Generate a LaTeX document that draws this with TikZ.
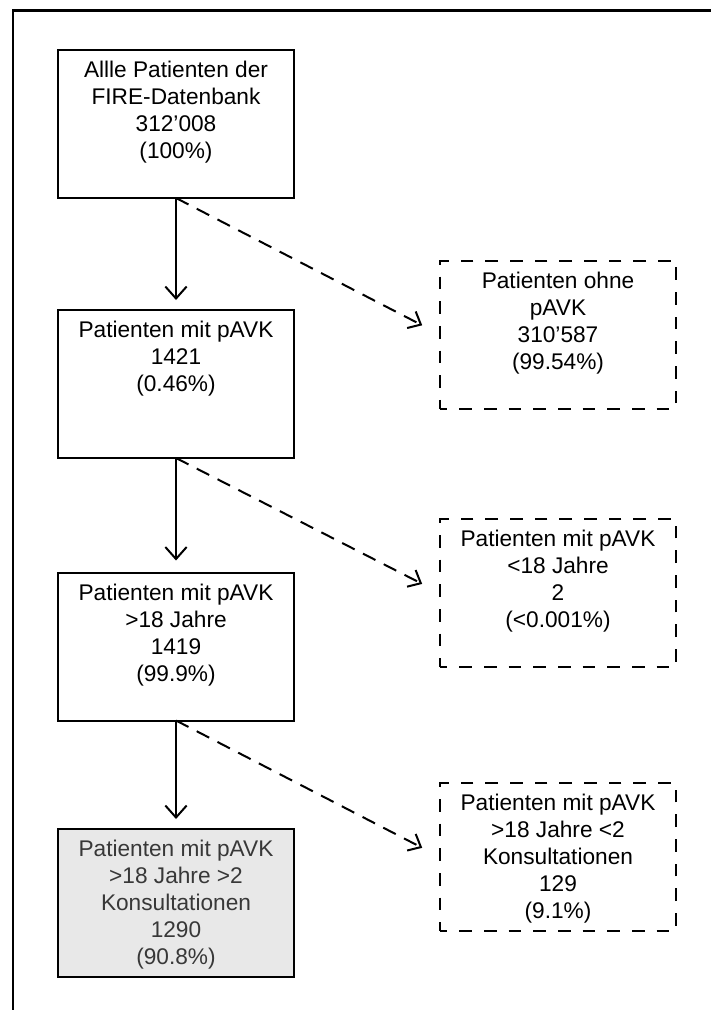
\documentclass[tikz,border=0pt]{standalone}
\usepackage{fontspec}
\setmainfont{Liberation Sans}
\usetikzlibrary{arrows.meta}
\newcommand\boxlines[1]{\parbox[c][111pt][t]{177pt}{\centering\rule{0pt}{20.8pt}#1}}
\tikzset{
  flowbox/.style={draw=black, line width=1.5pt, inner sep=0pt, outer sep=0pt,
    font=\fontsize{17}{20.25}\selectfont},
  solidbox/.style={flowbox},
  greybox/.style={flowbox, fill=black!9, text=black!78},
  dashbox/.style={flowbox, dash pattern=on 9.5pt off 9pt, dash phase=4pt},
  mainarrow/.style={draw=black, line width=1.5pt, -{Straight Barb[length=9pt,width=16pt,line width=1.5pt]}},
  sidearrow/.style={draw=black, line width=1.5pt, dash pattern=on 10.5pt off 7pt,
    -{Straight Barb[length=8pt,width=14pt,line width=1.5pt]}},
  frameline/.style={draw=black, line width=1.9pt}
}
\begin{document}
\begin{tikzpicture}[x=0.75pt, y=-0.75pt]
\useasboundingbox (0,0) rectangle (711,1010);
\coordinate (fbl) at (13,1010);
\coordinate (ftl) at (13,10.5);
\coordinate (ftr) at (711,10.5);
\draw[frameline] (fbl) -- (ftl) -- (ftr);

\node[solidbox] (b1) at (176,124) {\boxlines{Allle Patienten der\\FIRE-Datenbank\\312’008\\(100\%)}};
\node[solidbox] (b2) at (176,384) {\boxlines{Patienten mit pAVK\\1421\\(0.46\%)}};
\node[solidbox] (b3) at (176,646.5) {\boxlines{Patienten mit pAVK\\>18 Jahre\\1419\\(99.9\%)}};
\node[greybox] (b4) at (176,903) {\boxlines{Patienten mit pAVK\\>18 Jahre >2\\Konsultationen\\1290\\(90.8\%)}};

\node[dashbox] (r1) at (558,334.5) {\boxlines{Patienten ohne\\pAVK\\310’587\\(99.54\%)}};
\node[dashbox] (r2) at (558,593) {\boxlines{Patienten mit pAVK\\<18 Jahre\\2\\(<0.001\%)}};
\node[dashbox] (r3) at (558,857) {\boxlines{Patienten mit pAVK\\>18 Jahre <2\\Konsultationen\\129\\(9.1\%)}};

\draw[mainarrow, shorten >=7.5pt] (b1.south) -- (b2.north);
\draw[mainarrow, shorten >=9pt] (b2.south) -- (b3.north);
\draw[mainarrow, shorten >=7.5pt] (b3.south) -- (b4.north);

\draw[sidearrow, shorten >=15pt] (b1.south) -- (r1.west);
\draw[sidearrow, shorten >=15pt] (b2.south) -- (r2.west);
\draw[sidearrow, shorten >=15pt] (b3.south) -- (r3.west);
\end{tikzpicture}
\end{document}
